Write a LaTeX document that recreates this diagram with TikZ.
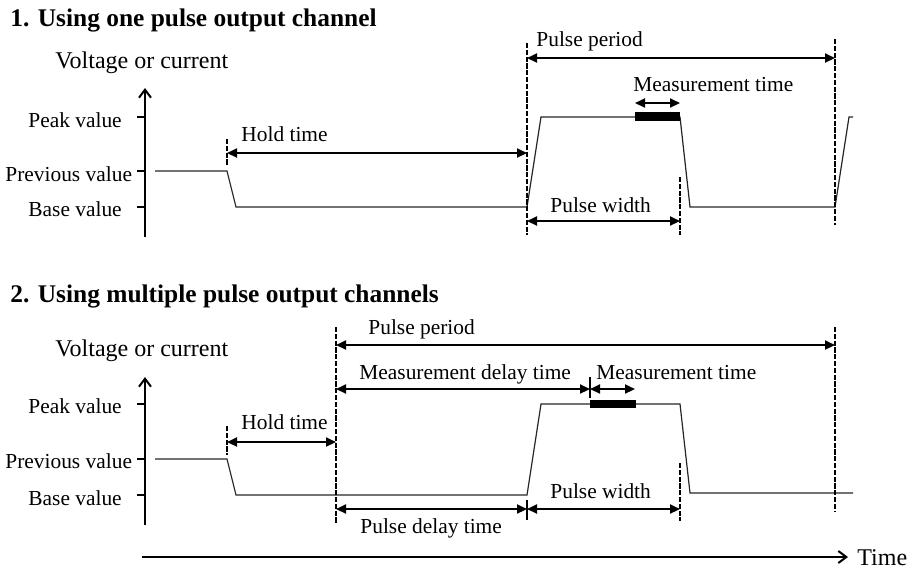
\documentclass[tikz,border=0pt]{standalone}
\usepackage{fontspec}
\setmainfont{Liberation Serif}
\usetikzlibrary{arrows.meta,positioning}

\begin{document}
\begin{tikzpicture}[x=0.5pt,y=-0.5pt,
  lbl/.style={inner sep=0pt,anchor=base west,font=\fontsize{10.7}{12}\selectfont},
  axlbl/.style={inner sep=0pt,anchor=base west,font=\fontsize{12}{14}\selectfont},
  head/.style={inner sep=0pt,anchor=base west,font=\fontsize{12.7}{15}\selectfont\bfseries},
  vaxis/.style={line width=1pt,-{Straight Barb[length=4pt,width=6pt]}},
  tickmark/.style={line width=1pt},
  wave/.style={line width=0.6pt,black!85},
  guide/.style={line width=1pt,dash pattern=on 2.6pt off 0.8pt},
  dim/.style={line width=1pt,{Triangle[length=5pt,width=4.5pt]}-{Triangle[length=5pt,width=4.5pt]}},
  meas/.style={fill=black,draw=none}
]
\useasboundingbox (0,0) rectangle (914,570);

% 1. one pulse output channel
\node[head] (head1) at (10,26.5) {1. Using one pulse output channel};
\node[axlbl] (vc1) at (55,68) {Voltage or current};
\coordinate (org1) at (145,237);
\coordinate (top1) at (145,88);
\draw[vaxis] (org1) -- (top1);
\draw[tickmark] (137,117) -- (145,117);
\draw[tickmark] (137,171) -- (145,171);
\draw[tickmark] (137,207) -- (145,207);
\node[lbl] (peak1) at (28,127) {Peak value};
\node[lbl] (prev1) at (5,181.7) {Previous value};
\node[lbl] (base1) at (28,216.7) {Base value};

\draw[wave] (155,171) -- (227,171) -- (236,207) -- (527,207) -- (541,117) -- (680,117)
  -- (690,207) -- (835,207) -- (849,117) -- (853,117);
\fill[meas] (635,112) rectangle (680,121);

\draw[guide] (227,139) -- (227,166);
\draw[guide] (527,43) -- (527,235);
\draw[guide] (680,177) -- (680,235);
\draw[guide] (835,39) -- (835,225);

\coordinate (hold1a) at (227,153);
\coordinate (hold1b) at (527,153);
\coordinate (per1a) at (527,58);
\coordinate (per1b) at (835,58);
\coordinate (mt1a) at (635,103);
\coordinate (mt1b) at (680,103);
\coordinate (pw1a) at (527,221);
\coordinate (pw1b) at (680,221);
\draw[dim] (hold1a) -- (hold1b);
\draw[dim] (per1a) -- (per1b);
\draw[dim] (mt1a) -- (mt1b);
\draw[dim] (pw1a) -- (pw1b);
\node[lbl] (holdl1) at (241,141.7) {Hold time};
\node[lbl] (perl1) at (536,46.7) {Pulse period};
\node[lbl] (mtl1) at (633,91.7) {Measurement time};
\node[lbl] (pwl1) at (550,212.3) {Pulse width};

% 2. multiple pulse output channels
\node[head] (head2) at (10,302.5) {2. Using multiple pulse output channels};
\node[axlbl] (vc2) at (55,356) {Voltage or current};
\coordinate (org2) at (145,525);
\coordinate (top2) at (145,377);
\draw[vaxis] (org2) -- (top2);
\draw[tickmark] (137,404) -- (145,404);
\draw[tickmark] (137,459) -- (145,459);
\draw[tickmark] (137,495) -- (145,495);
\node[lbl] (peak2) at (28,413.3) {Peak value};
\node[lbl] (prev2) at (5,468.3) {Previous value};
\node[lbl] (base2) at (28,505) {Base value};

\draw[wave] (155,459) -- (227,459) -- (236,495) -- (527,495) -- (541,404) -- (680,404)
  -- (690,493) -- (853,493);
\fill[meas] (590,400) rectangle (636,408);

\draw[guide] (227,426) -- (227,455);
\draw[guide] (336,327) -- (336,523);
\draw[guide] (680,463) -- (680,521);
\draw[guide] (835,327) -- (835,512);
\draw[tickmark] (590,377) -- (590,398);
\draw[tickmark] (527,500) -- (527,520);

\coordinate (per2a) at (336,345);
\coordinate (per2b) at (835,345);
\coordinate (md2a) at (336,389);
\coordinate (md2b) at (590,389);
\coordinate (mt2b) at (635,389);
\coordinate (hold2a) at (227,442);
\coordinate (hold2b) at (336,442);
\coordinate (pd2a) at (336,509);
\coordinate (pd2b) at (527,509);
\coordinate (pw2b) at (680,509);
\draw[dim] (per2a) -- (per2b);
\draw[dim] (md2a) -- (md2b);
\draw[dim] (md2b) -- (mt2b);
\draw[dim] (hold2a) -- (hold2b);
\draw[dim] (pd2a) -- (pd2b);
\draw[dim] (pd2b) -- (pw2b);
\node[lbl] (perl2) at (368,334) {Pulse period};
\node[lbl] (mdl2) at (359,379.3) {Measurement delay time};
\node[lbl] (mtl2) at (596,379.3) {Measurement time};
\node[lbl] (holdl2) at (241,429.3) {Hold time};
\node[lbl] (pdl2) at (360,533.3) {Pulse delay time};
\node[lbl] (pwl2) at (550,498.3) {Pulse width};

% time axis
\coordinate (t0) at (142,557);
\coordinate (t1) at (848,557);
\draw[vaxis] (t0) -- (t1);
\node[axlbl] (timel) at (857,565.5) {Time};
\end{tikzpicture}
\end{document}
